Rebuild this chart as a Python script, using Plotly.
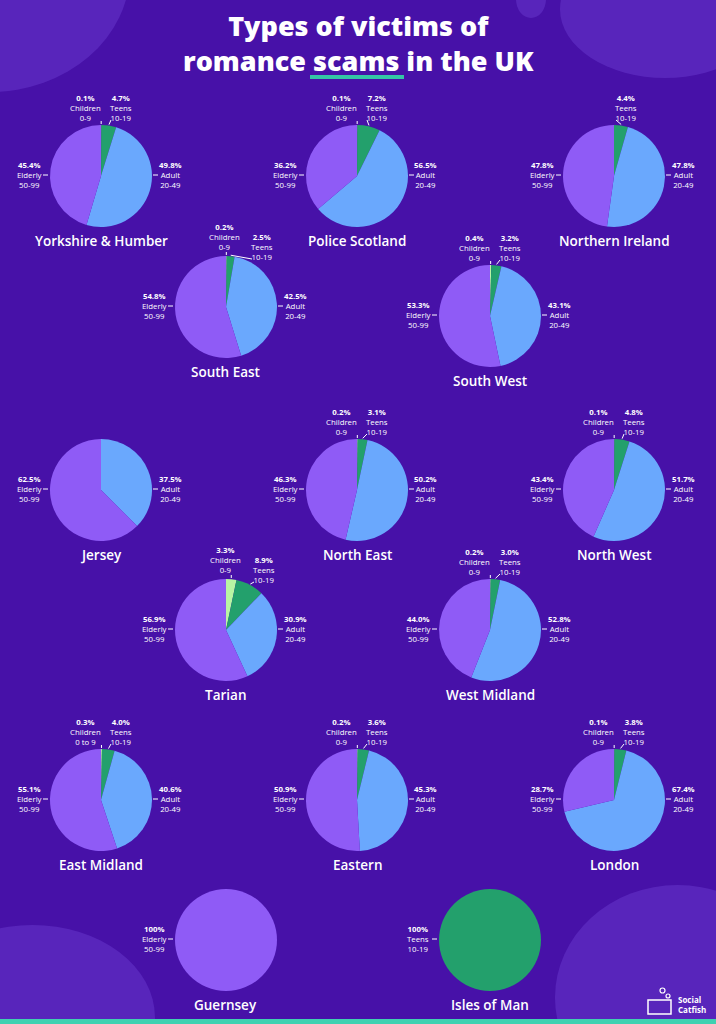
import math

import plotly.graph_objects as go

W, H = 716, 1024

regions = ["Yorkshire & Humber", "Police Scotland", "Northern Ireland",
           "South East", "South West",
           "Jersey", "North East", "North West",
           "Tarian", "West Midland",
           "East Midland", "Eastern", "London",
           "Guernsey", "Isles of Man"]
children_pct = [0.1, 0.1, None, 0.2, 0.4, None, 0.2, 0.1, 3.3, 0.2, 0.3, 0.2, 0.1, None, None]
teens_pct = [4.7, 7.2, 4.4, 2.5, 3.2, None, 3.1, 4.8, 8.9, 3.0, 4.0, 3.6, 3.8, None, 100]
adult_pct = [49.8, 56.5, 47.8, 42.5, 43.1, 37.5, 50.2, 51.7, 30.9, 52.8, 40.6, 45.3, 67.4, None, None]
elderly_pct = [45.4, 36.2, 47.8, 54.8, 53.3, 62.5, 46.3, 43.4, 56.9, 44.0, 55.1, 50.9, 28.7, 100, None]

groups = ["Children", "Teens", "Adult", "Elderly"]
group_ages = ["0-9", "10-19", "20-49", "50-99"]
age_override = {("East Midland", "Children"): "0 to 9"}

title_text = "Types of victims of<br>romance scams in the UK"

# ---- layout / styling ----
BG = "#4711a8"
COLORS = {"Children": "#b9f5a4", "Teens": "#23a06c",
          "Adult": "#6aa8fd", "Elderly": "#8f5bf6"}
FONT = "Open Sans"
R = 51
# pie centres in pixels, same order as regions
centres = [(101, 176), (357, 176), (614, 176),
           (226, 307), (490, 316),
           (101, 490), (357, 490), (614, 490),
           (226, 630), (490, 630),
           (101, 800), (357, 800), (614, 800),
           (226, 940), (490, 940)]
# (children dx, children dy, teens dx, teens dy) for the labels above the pie
top_shift = {"South East": (-2, -2, 36, 8), "Tarian": (0, -2, 38, 8),
             "Northern Ireland": (0, 0, 12, 0)}


def fx(x):
    return x / W


def fy(y):
    return 1 - y / H


def fmt(v):
    return "100%" if v == 100 else f"{v:.1f}%"


fig = go.Figure()
annotations = []
shapes = []


def block(x, y, pct, grp, age):
    annotations.append(dict(
        x=fx(x), y=fy(y), xref="paper", yref="paper",
        text=f"<b>{fmt(pct)}</b><br>{grp}<br>{age}",
        showarrow=False, align="center", xanchor="center", yanchor="middle",
        font=dict(family=FONT, size=7.8, color="white")))


def tick(x0, y0, x1, y1):
    shapes.append(dict(type="line", xref="paper", yref="paper",
                       x0=fx(x0), y0=fy(y0), x1=fx(x1), y1=fy(y1),
                       line=dict(color="white", width=1)))


series = {"Children": children_pct, "Teens": teens_pct,
          "Adult": adult_pct, "Elderly": elderly_pct}

for i, name in enumerate(regions):
    cx, cy = centres[i]
    labels, values = [], []
    for g in groups:
        v = series[g][i]
        if v is not None:
            labels.append(g)
            values.append(v)

    fig.add_trace(go.Pie(
        labels=labels, values=values, sort=False, direction="clockwise",
        rotation=0, textinfo="none", hoverinfo="label+value",
        marker=dict(colors=[COLORS[l] for l in labels], line=dict(width=0)),
        domain=dict(x=[fx(cx - R), fx(cx + R)], y=[fy(cy + R), fy(cy - R)]),
        showlegend=False, name=name))

    annotations.append(dict(
        x=fx(cx), y=fy(cy + R + 14), xref="paper", yref="paper", text=name,
        showarrow=False, xanchor="center", yanchor="middle",
        font=dict(family=FONT, size=13.5, color="white", weight=600)))

    def age(g):
        return age_override.get((name, g), group_ages[groups.index(g)])

    dxc, dyc, dxt, dyt = top_shift.get(name, (-16, 0, 20, 0))
    cum = 0.0
    total = sum(values)
    for g, v in zip(labels, values):
        mid = (cum + v / 2) / total * 2 * math.pi
        cum += v
        if len(labels) == 1 or g == "Elderly":
            block(cx - 72, cy - 1, v, g, age(g))
            tick(cx - R - 7, cy - 1, cx - R - 2, cy - 1)
        elif g == "Adult":
            block(cx + 69, cy - 1, v, g, age(g))
            tick(cx + R + 1, cy - 1, cx + R + 6, cy - 1)
        elif g == "Children":
            block(cx + dxc, cy - 68 + dyc, v, g, age(g))
            ex = cx + R * math.sin(mid)
            tick(ex, cy - R - 1, ex, cy - R - 4)
        elif g == "Teens":
            block(cx + dxt, cy - 68 + dyt, v, g, age(g))
            ex = cx + (R + 1) * math.sin(mid)
            ey = cy - (R + 1) * math.cos(mid)
            tick(ex, ey, cx + dxt - 10, cy - 56 + dyt)

# title
annotations.append(dict(
    x=0.5, y=fy(43), xref="paper", yref="paper", text=title_text,
    showarrow=False, xanchor="center", yanchor="middle", align="center",
    font=dict(family=FONT, size=27, color="white", weight=800)))

# logo text
annotations.append(dict(
    x=fx(676), y=fy(1004), xref="paper", yref="paper",
    text="<b>Social<br>Catfish</b>", showarrow=False, align="left",
    xanchor="left", yanchor="middle",
    font=dict(family=FONT, size=8, color="white")))

# decorative blobs
blob = "rgba(150,110,255,0.22)"
for x0, y0, x1, y1 in [(-150, -150, 130, 92), (560, -60, 770, 78),
                       (516, -20, 546, 18), (-90, 925, 155, 1110),
                       (555, 885, 800, 1110)]:
    shapes.append(dict(type="circle", xref="paper", yref="paper", layer="below",
                       x0=fx(x0), x1=fx(x1), y0=fy(y1), y1=fy(y0),
                       fillcolor=blob, line=dict(width=0)))

# title underline and bottom strip
shapes.append(dict(type="rect", xref="paper", yref="paper",
                   x0=fx(310), x1=fx(404), y0=fy(79), y1=fy(75),
                   fillcolor="#34c6a6", line=dict(width=0)))
shapes.append(dict(type="rect", xref="paper", yref="paper",
                   x0=0, x1=1, y0=0, y1=fy(1019),
                   fillcolor="#3fd1b1", line=dict(width=0)))

# logo icon
shapes.append(dict(type="rect", xref="paper", yref="paper",
                   x0=fx(648), x1=fx(671), y0=fy(1014), y1=fy(1000),
                   line=dict(color="white", width=1.5)))
for (x0, y0, d) in [(660, 988, 5), (666, 994, 4)]:
    shapes.append(dict(type="circle", xref="paper", yref="paper",
                       x0=fx(x0), x1=fx(x0 + d), y0=fy(y0 + d), y1=fy(y0),
                       line=dict(color="white", width=1.2)))

fig.update_layout(
    width=W, height=H, autosize=False,
    margin=dict(l=0, r=0, t=0, b=0),
    paper_bgcolor=BG, plot_bgcolor=BG,
    annotations=annotations, shapes=shapes,
)

# drop the browser's default body margin so the figure fills the window
fig.write_html("out.html", config={"displayModeBar": False},
               post_script="document.body.style.margin='0';"
                           "document.body.style.overflow='hidden';")
